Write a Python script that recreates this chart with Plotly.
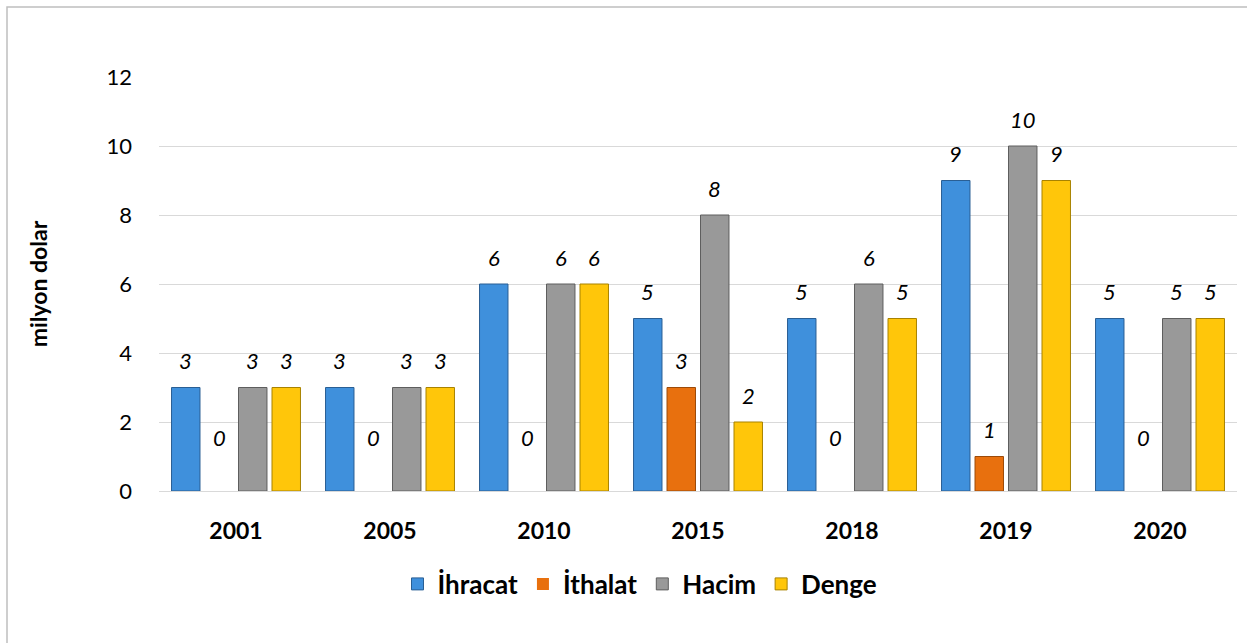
import plotly.graph_objects as go

years = ["2001", "2005", "2010", "2015", "2018", "2019", "2020"]
ihracat = [3, 3, 6, 5, 5, 9, 5]
ithalat = [0, 0, 0, 3, 0, 1, 0]
hacim = [3, 3, 6, 8, 6, 10, 5]
denge = [3, 3, 6, 2, 5, 9, 5]

series_names = ["İhracat", "İthalat", "Hacim", "Denge"]
series_values = [ihracat, ithalat, hacim, denge]
fill_colors = ["#3F90DC", "#E8700E", "#999999", "#FFC60A"]
line_colors = ["#2A5F94", "#9C4A08", "#5E5E5E", "#A88200"]

FONT = "Lato"
W, H = 1247, 643
L, R, T, B = 159, 10, 77, 152
plot_w = W - L - R
plot_h = H - T - B

fig = go.Figure()
for name, vals, fc, lc in zip(series_names, series_values, fill_colors, line_colors):
    fig.add_trace(go.Bar(
        x=years, y=vals, name=name,
        marker=dict(color=fc, line=dict(color=lc, width=[1 if v > 0 else 0 for v in vals])),
        hoverinfo="x+y+name",
    ))

# data labels (positioned by category index so numeric-looking names are not misread)
n = len(series_names)
BARGAP = 0.13
group_w = plot_w / len(years) * (1 - BARGAP)
slot = group_w / n
annotations = []
for i, vals in enumerate(series_values):
    for j, v in enumerate(vals):
        annotations.append(dict(
            x=j, y=v, xref="x", yref="y", text=str(v), showarrow=False,
            xshift=(i - (n - 1) / 2) * slot,
            yshift=27 if v > 0 else 54,
            font=dict(family=FONT, size=22, color="#000000", style="italic"),
        ))

fig.update_layout(
    width=W, height=H,
    margin=dict(l=L, r=R, t=T, b=B, autoexpand=False),
    paper_bgcolor="white", plot_bgcolor="white",
    barmode="group", bargap=BARGAP, bargroupgap=0.15,
    font=dict(family=FONT, color="#000000"),
    annotations=annotations,
    showlegend=True,
    legend=dict(
        orientation="h", x=(640 - L) / plot_w, xanchor="center",
        y=(T + plot_h - 584) / plot_h, yanchor="middle",
        font=dict(family=FONT, size=26, color="#000000", weight="bold"),
        itemwidth=30, tracegroupgap=0,
    ),
    shapes=[dict(type="rect", xref="paper", yref="paper",
                 x0=(7 - L) / plot_w, x1=(W + 20 - L) / plot_w,
                 y0=-(H + 20 - T - plot_h) / plot_h, y1=(T + plot_h - 7) / plot_h,
                 line=dict(color="#BFBFBF", width=1.5), layer="below")],
)

fig.update_xaxes(
    type="category", range=[-0.5, len(years) - 0.5], autorange=False,
    showgrid=False, showline=False, ticks="",
    tickfont=dict(family=FONT, size=23, color="#000000", weight="bold"),
    ticklabelstandoff=24,
)
fig.update_yaxes(
    range=[0, 12], autorange=False, dtick=2, tick0=0,
    showgrid=True, gridcolor="#D9D9D9", gridwidth=1.3,
    zeroline=True, zerolinecolor="#D9D9D9", zerolinewidth=1.3,
    showline=False, ticks="",
    tickfont=dict(family=FONT, size=22, color="#000000"),
    ticklabelstandoff=26,
    title=dict(text="milyon dolar", standoff=52,
               font=dict(family=FONT, size=23, color="#000000", weight="bold")),
)

fig.write_html("out.html", config={"displayModeBar": False},
               post_script="document.body.style.margin='0px';")
